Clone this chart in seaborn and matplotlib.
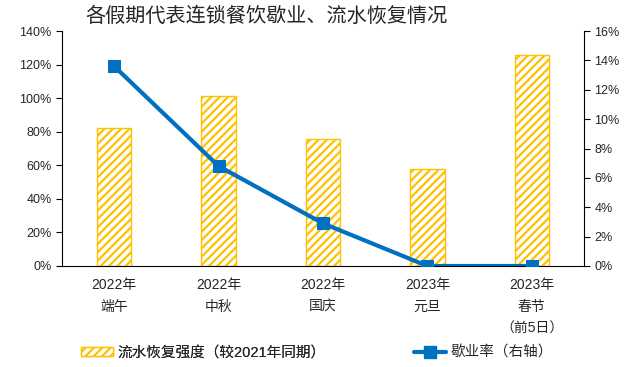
import numpy as np
import pandas as pd
import matplotlib
matplotlib.use('Agg')
import matplotlib.pyplot as plt
import seaborn as sns
from matplotlib.patches import Patch
from matplotlib.lines import Line2D

# data
holidays = ['2022年\n端午', '2022年\n中秋', '2022年\n国庆', '2023年\n元旦', '2023年\n春节\n（前5日）']
revenue_recovery = [82, 101, 75.5, 58, 125.5]     # % of same period 2021 (left axis)
closure_rate = [13.6, 6.8, 2.9, 0.0, 0.0]          # % (right axis)

sns.set_style('white')
plt.rcParams['font.family'] = ['Liberation Sans', 'Noto Sans CJK SC', 'DejaVu Sans']
plt.rcParams['hatch.linewidth'] = 1.6
plt.rcParams['axes.unicode_minus'] = False

yellow = '#FFC000'
blue = '#0070C0'

df = pd.DataFrame({'holiday': holidays, 'recovery': revenue_recovery, 'closure': closure_rate})

fig = plt.figure(figsize=(6.42, 3.67), dpi=100)
ax = fig.add_axes([62 / 642, 1 - 266 / 367, (584 - 62) / 642, (266 - 31) / 367])

# bars for revenue recovery
sns.barplot(data=df, x='holiday', y='recovery', ax=ax, color='white', width=0.33,
            edgecolor=yellow, linewidth=1.0, saturation=1)
for p in ax.patches:
    p.set_hatch('////')
    p.set_facecolor('white')
    p.set_edgecolor(yellow)

ax.set_ylim(0, 140)
ax.set_yticks(np.arange(0, 141, 20))
ax.set_yticklabels([f'{v}%' for v in range(0, 141, 20)], fontsize=9)
ax.set_xlim(-0.5, 4.5)
ax.set_xlabel('')
ax.set_ylabel('')

# category labels between the boundary ticks
ax.set_xticks(np.arange(-0.5, 5, 1))
ax.set_xticklabels([])
ax.set_xticks(np.arange(5), minor=True)
ax.set_xticklabels(holidays, minor=True, fontsize=10, linespacing=1.7)
ax.tick_params(axis='x', which='major', length=4, width=0.8, direction='out', color='black')
ax.tick_params(axis='x', which='minor', length=0, pad=9)
ax.tick_params(axis='y', length=4, width=0.8, direction='out', color='black', left=True)

for s in ['top', 'right']:
    ax.spines[s].set_visible(False)
for s in ['left', 'bottom']:
    ax.spines[s].set_color('black')
    ax.spines[s].set_linewidth(0.8)

# closure rate on the right axis
ax2 = ax.twinx()
sns.lineplot(x=np.arange(5), y=closure_rate, ax=ax2, color=blue, linewidth=3,
             marker='s', markersize=8, markeredgecolor=blue, markerfacecolor=blue)
ax2.set_ylim(0, 16)
ax2.set_yticks(np.arange(0, 17, 2))
ax2.set_yticklabels([f'{v}%' for v in range(0, 17, 2)], fontsize=9)
ax2.tick_params(axis='y', length=4, width=0.8, direction='out', color='black', right=True)
for s in ['top', 'left', 'bottom']:
    ax2.spines[s].set_visible(False)
ax2.spines['right'].set_color('black')
ax2.spines['right'].set_linewidth(0.8)
ax2.set_xlim(-0.5, 4.5)

fig.text(267 / 642, 1 - 16 / 367, '各假期代表连锁餐饮歇业、流水恢复情况', ha='center', va='center',
         fontsize=14.5, family=['Noto Sans CJK SC', 'DejaVu Sans'])

# legends
h1 = Patch(facecolor='white', edgecolor=yellow, hatch='////', linewidth=1.0)
leg1 = fig.legend(handles=[h1], labels=['流水恢复强度（较2021年同期）'], loc='center left',
                  bbox_to_anchor=(68 / 642, 1 - 353 / 367), frameon=False, fontsize=10.5,
                  handlelength=2.2, handleheight=0.55, handletextpad=0.3)
h2 = Line2D([], [], color=blue, linewidth=3, marker='s', markersize=8)
leg2 = fig.legend(handles=[h2], labels=['歇业率（右轴）'], loc='center left',
                  bbox_to_anchor=(401 / 642, 1 - 353 / 367), frameon=False, fontsize=10.5,
                  handlelength=2.2, handletextpad=0.3)
fig.add_artist(leg1)

fig.savefig('out.png', dpi=100)
